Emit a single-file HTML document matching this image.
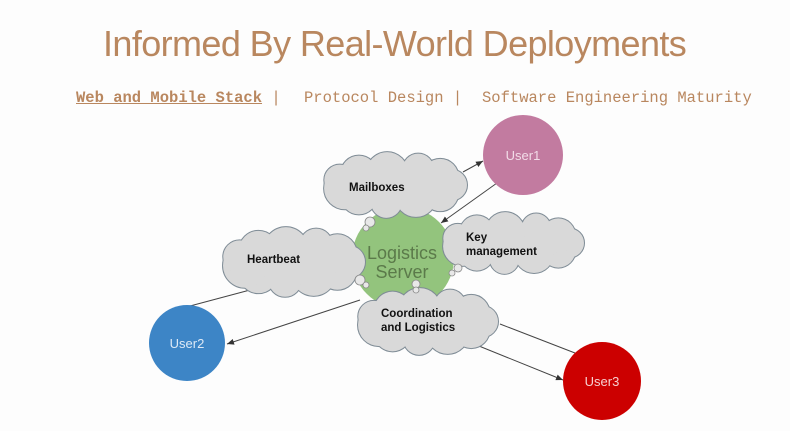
<!DOCTYPE html>
<html><head><meta charset="utf-8"><style>
html,body{margin:0;padding:0;background:#fdfdfd;}
body{width:790px;height:431px;position:relative;overflow:hidden;font-family:"Liberation Sans",sans-serif;}
.t{position:absolute;left:103px;top:23px;font-size:36px;color:#b9875f;white-space:nowrap;letter-spacing:-0.6px}
.n{position:absolute;top:89px;font-family:"Liberation Mono",monospace;font-size:15.5px;color:#b9875f;white-space:nowrap}
svg{position:absolute;left:0;top:0}
</style></head><body>
<div class="t">Informed By Real-World Deployments</div>
<div class="n" style="left:76px"><b style="text-decoration:underline">Web and Mobile Stack</b> |</div>
<div class="n" style="left:304px">Protocol Design |</div>
<div class="n" style="left:482px">Software Engineering Maturity</div>
<svg id="s" width="790" height="431" xmlns="http://www.w3.org/2000/svg">
<defs><marker id="a" markerWidth="8" markerHeight="8" refX="7" refY="4" orient="auto" markerUnits="userSpaceOnUse"><path d="M0,1 L7,4 L0,7z" fill="#333"/></marker></defs>
<g stroke="#444" stroke-width="1" fill="none">
<line x1="463" y1="172" x2="483" y2="161" marker-end="url(#a)"/>
<line x1="497" y1="183" x2="441" y2="223" marker-end="url(#a)"/>
<line x1="250" y1="290" x2="190" y2="306"/>
<line x1="360" y1="300" x2="227" y2="344" marker-end="url(#a)"/>
<line x1="500" y1="324" x2="575" y2="353"/>
<line x1="474" y1="344" x2="563" y2="380" marker-end="url(#a)"/>
</g>
<circle cx="403" cy="258" r="51" fill="#93c47d"/>
<g id="clouds"></g>
<text x="402" y="259" font-size="18" fill="#5b7a4a" text-anchor="middle">Logistics</text>
<text x="402" y="278" font-size="18" fill="#5b7a4a" text-anchor="middle">Server</text>
<g font-size="11.5" font-weight="bold" fill="#111">
<text x="349" y="191">Mailboxes</text>
<text x="466" y="241">Key</text>
<text x="466" y="255">management</text>
<text x="247" y="263">Heartbeat</text>
<text x="381" y="317">Coordination</text>
<text x="381" y="331">and Logistics</text>
</g>
<circle cx="523" cy="155" r="40" fill="#c27ba0"/>
<text x="523" y="160" font-size="13" fill="#f2dce8" text-anchor="middle">User1</text>
<circle cx="187" cy="343" r="38" fill="#3d85c6"/>
<text x="187" y="348" font-size="13" fill="#dde9f6" text-anchor="middle">User2</text>
<circle cx="602" cy="381" r="39" fill="#cc0000"/>
<text x="602" y="386" font-size="13" fill="#f6d0d0" text-anchor="middle">User3</text>
</svg>
<script>
var g=document.getElementById('clouds'),a='',b='';
function cloud(x0,y0,x1,y1,n){var cx=(x0+x1)/2,cy=(y0+y1)/2,rx=(x1-x0)/2,ry=(y1-y0)/2,r=ry*0.55;
var s='<ellipse cx="'+cx+'" cy="'+cy+'" rx="'+(rx-r*0.6)+'" ry="'+(ry-r*0.6)+'"/>';
for(var i=0;i<n;i++){var t=2*Math.PI*i/n,rr=r*(0.85+0.3*((i*7)%3)/2);
s+='<circle cx="'+(cx+(rx-rr)*Math.cos(t))+'" cy="'+(cy+(ry-rr)*Math.sin(t))+'" r="'+rr+'"/>';}
a+=s;b+=s;}
cloud(322,152,467,218,11);cloud(441,212,584,274,11);cloud(221,227,365,297,11);cloud(356,288,498,355,11);
g.innerHTML='<g fill="#d9d9d9" stroke="#7f8c96" stroke-width="2">'+a+'</g><g fill="#d9d9d9">'+b+'</g>'+
'<g fill="#e8e8e8" stroke="#888" stroke-width="0.8"><circle cx="370" cy="222" r="5"/><circle cx="366" cy="228" r="3"/><circle cx="360" cy="280" r="5"/><circle cx="366" cy="285" r="3"/><circle cx="416" cy="284" r="4"/><circle cx="416" cy="290" r="3"/><circle cx="458" cy="268" r="4"/><circle cx="452" cy="273" r="3"/></g>';
</script>
</body></html>
